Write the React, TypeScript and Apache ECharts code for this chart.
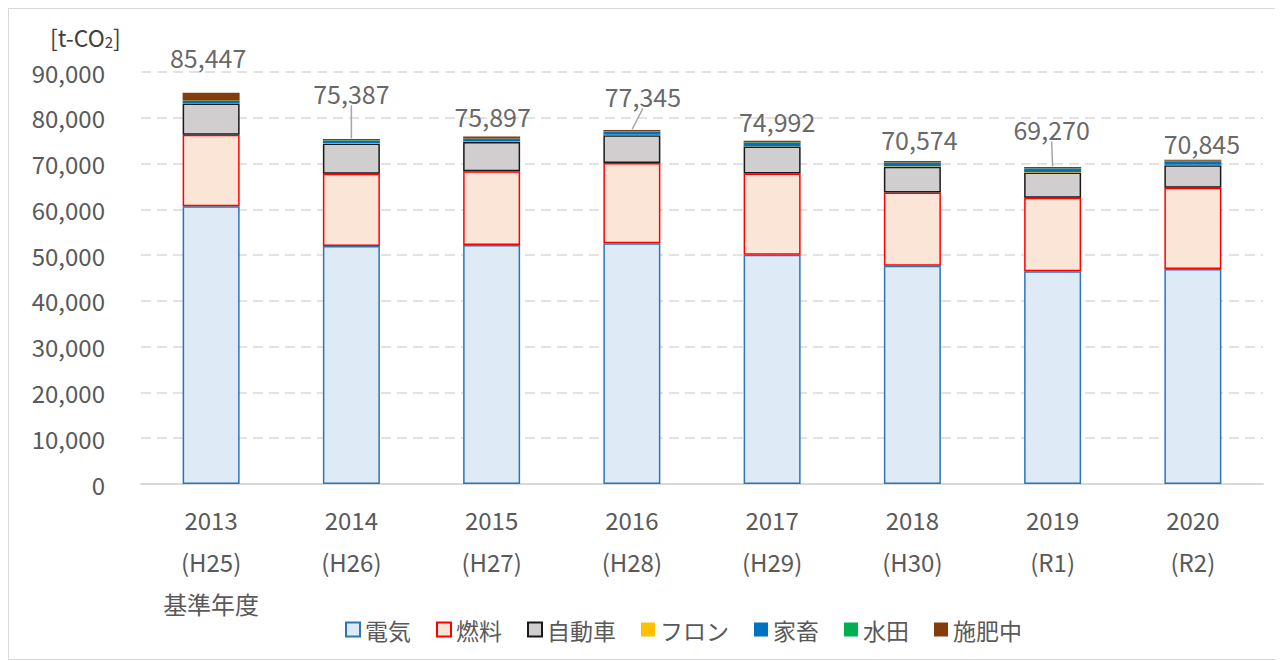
import React, { useEffect, useRef } from "react";
import * as echarts from "echarts";

const categories = ["2013\n(H25)\n基準年度", "2014\n(H26)", "2015\n(H27)", "2016\n(H28)", "2017\n(H29)", "2018\n(H30)", "2019\n(R1)", "2020\n(R2)"];
const denki = [60700, 52000, 52200, 52600, 50100, 47700, 46450, 46950];
const nenryo = [15600, 15800, 16100, 17500, 17750, 16000, 16100, 17750];
const jidosha = [6800, 6600, 6400, 6100, 5850, 5600, 5500, 4950];
const fron = [100, 100, 100, 100, 100, 100, 100, 100];
const kachiku = [450, 500, 600, 650, 750, 750, 750, 750];
const suiden = [150, 100, 100, 100, 100, 100, 100, 100];
const sehi = [1647, 287, 397, 295, 342, 324, 270, 245];
const totals = [85447, 75387, 75897, 77345, 74992, 70574, 69270, 70845];
const yTicks = [0, 10000, 20000, 30000, 40000, 50000, 60000, 70000, 80000, 90000];

// label placement offsets (layout only)
const labelOffsets: [number, number][] = [
  [-3, -36], [0, -46], [1, -21], [11, -34], [5, -20], [7, -22], [-1, -38], [9, -17],
];
const leaderLine = [false, true, false, true, false, false, true, false];

const FONT = '"Noto Sans CJK JP", "Noto Sans", sans-serif';
const TXT = "#595959";

const fmt = (v: number) => v.toString().replace(/\B(?=(\d{3})+(?!\d))/g, ",");

export default function App() {
  const ref = useRef<HTMLDivElement>(null);
  useEffect(() => {
    if (!ref.current) return;
    const chart = echarts.init(ref.current, undefined, { renderer: "svg" });
    const mk = (name: string, data: number[], color: string, border?: string) => ({
      name,
      type: "bar",
      stack: "total",
      barWidth: 57,
      data,
      itemStyle: border
        ? { color, borderColor: border, borderWidth: 1.5 }
        : { color, borderWidth: 0 },
      emphasis: { disabled: true },
    });
    chart.setOption({
      animation: false,
      textStyle: { fontFamily: FONT },
      grid: { left: 132, right: 17, top: 63, bottom: 175 },
      legend: {
        left: 331,
        top: 604,
        itemWidth: 14,
        itemHeight: 14,
        itemGap: 25,
        icon: "rect",
        textStyle: { fontSize: 23, color: TXT, fontFamily: FONT },
        data: ["電気", "燃料", "自動車", "フロン", "家畜", "水田", "施肥中"],
      },
      graphic: [
        {
          type: "text",
          left: 41,
          top: 16,
          style: {
            text: "[t-CO{sub|2}]",
            font: `23px ${FONT}`,
            fill: "#404040",
            lineHeight: 24,
            rich: {
              sub: { fontSize: 15, fontFamily: FONT, fill: "#404040", lineHeight: 14, verticalAlign: "bottom" },
            },
          },
        },
      ],
      xAxis: {
        type: "category",
        data: categories,
        axisLine: { lineStyle: { color: "#d9d9d9", width: 2 } },
        axisTick: { show: false },
        axisLabel: { color: TXT, fontSize: 24, lineHeight: 42, margin: 14, fontFamily: FONT },
      },
      yAxis: {
        type: "value",
        min: yTicks[0],
        max: yTicks[yTicks.length - 1],
        interval: 10000,
        axisLine: { show: false },
        axisTick: { show: false },
        axisLabel: { color: TXT, fontSize: 24, margin: 36, formatter: (v: number) => fmt(v), fontFamily: FONT },
        splitLine: { lineStyle: { color: "#d9d9d9", width: 1.5, type: [10, 6] } },
      },
      series: [
        mk("電気", denki, "#DEEBF7", "#2E75B6"),
        mk("燃料", nenryo, "#FBE5D6", "#FF0000"),
        mk("自動車", jidosha, "#D0CECE", "#1a1a1a"),
        mk("フロン", fron, "#FFC000"),
        mk("家畜", kachiku, "#0070C0"),
        mk("水田", suiden, "#00B050"),
        mk("施肥中", sehi, "#843C0C"),
        {
          name: "合計",
          type: "scatter",
          symbolSize: 1,
          itemStyle: { color: "rgba(0,0,0,0)" },
          silent: true,
          data: totals.map((t, i) => ({
            value: [i, t],
            labelLine: { show: leaderLine[i], lineStyle: { color: "#a6a6a6", width: 1.5 }, length2: 0, smooth: false },
          })),
          label: {
            show: true,
            position: "inside",
            formatter: (p: any) => fmt(p.value[1]),
            fontSize: 25,
            color: "#404040",
            fontFamily: FONT,
          },
          labelLayout: (p: any) => ({ dx: labelOffsets[p.dataIndex][0], dy: labelOffsets[p.dataIndex][1] }),
          z: 10,
        },
      ],
    });
    return () => chart.dispose();
  }, []);
  return (
    <div style={{ width: 1273, height: 652, border: "1px solid #d9d9d9", boxSizing: "border-box" }}>
      <div ref={ref} style={{ width: 1271, height: 650 }} />
    </div>
  );
}
